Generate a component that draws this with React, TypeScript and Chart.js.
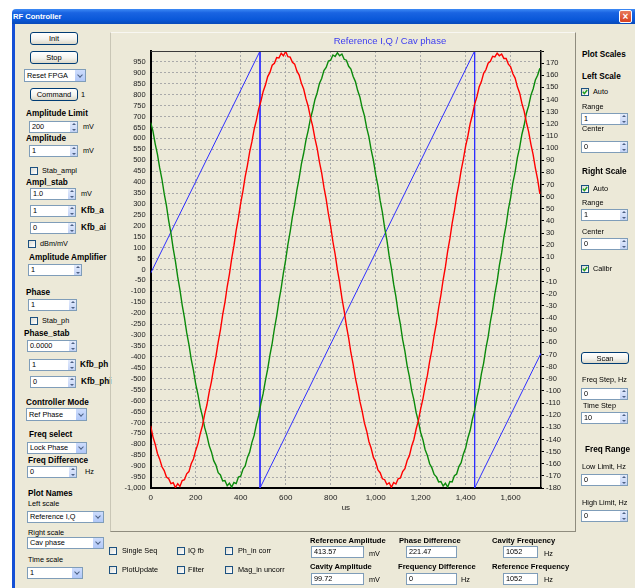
import React, { useEffect, useRef } from 'react';
import { Chart, registerables } from 'chart.js';

Chart.register(...registerables);

// ---------------- data ----------------
const SAMPLE_STEP_US = 10;
const X_MAX_US = 1735;
const CHART_TITLE = 'Reference I,Q / Cav phase';
const X_TITLE = 'us';

// Reference I (red), left scale, one value every 10 us from 0 to 1730 us
const referenceI = [
  -716, -766, -800, -842, -868, -903, -920, -950, -957, -980,
  -976, -998, -980, -993, -966, -962, -935, -925, -889, -867,
  -828, -798, -752, -715, -662, -619, -561, -513, -450, -398,
  -332, -276, -207, -150, -79, -21, 50, 109, 179, 236,
  304, 359, 425, 477, 538, 585, 642, 684, 735, 771,
  815, 844, 883, 902, 935, 944, 970, 968, 990, 978,
  998, 974, 972, 948, 940, 908, 890, 852, 826, 782,
  747, 697, 656, 600, 554, 493, 442, 377, 322, 254,
  197, 127, 69, -2, -60, -131, -189, -258, -314, -381,
  -434, -497, -546, -604, -648, -702, -739, -787, -818, -860,
  -881, -917, -930, -958, -962, -984, -976, -997, -975, -982,
  -958, -954, -925, -912, -874, -852, -809, -778, -730, -692,
  -638, -593, -534, -485, -421, -368, -301, -245, -175, -117,
  -47, 12, 83, 141, 211, 268, 336, 390, 454, 505,
  565, 611, 667, 707, 757, 790, 835, 860, 898, 914,
  944, 953, 976, 973, 990, 978, 986, 966, 966, 940,
  928, 896, 876, 836, 808, 761, 725, 674, 631, 574,
  526, 464, 412, 346,
];

// Reference Q (green), left scale, same sampling
const referenceQ = [
  672, 633, 575, 527, 465, 413, 347, 292, 223, 166,
  96, 37, -34, -93, -163, -220, -289, -344, -410, -462,
  -524, -572, -630, -672, -724, -760, -806, -835, -875, -895,
  -930, -940, -968, -966, -990, -978, -996, -975, -980, -950,
  -946, -914, -899, -860, -835, -791, -759, -708, -668, -613,
  -567, -507, -456, -392, -338, -270, -213, -144, -85, -15,
  44, 115, 173, 242, 298, 365, 419, 483, 532, 591,
  636, 690, 729, 777, 809, 851, 874, 910, 925, 954,
  958, 982, 975, 992, 978, 986, 962, 958, 930, 917,
  883, 860, 819, 789, 740, 704, 649, 607, 547, 500,
  435, 384, 315, 261, 190, 134, 62, 5, -67, -124,
  -196, -251, -321, -374, -441, -490, -553, -597, -655, -695,
  -746, -779, -825, -851, -889, -908, -938, -949, -972, -970,
  -991, -978, -996, -970, -972, -944, -936, -902, -884, -844,
  -817, -771, -737, -685, -645, -586, -541, -478, -428, -361,
  -308, -238, -182, -110, -54, 19, 76, 148, 204, 275,
  329, 397, 447, 512, 558, 618, 660, 714, 749, 797,
  826, 867, 889, 921,
];

// Cav phase (blue), right scale, degrees (sawtooth with wraps)
const phaseTimes = [0, 486, 486, 1440, 1440, 1735];
const cavPhase = [-3, 180, -180, 180, -180, -69];

const LEFT_MIN = -1000;
const LEFT_MAX = 1000;
const LEFT_STEP = 50;
const RIGHT_MIN = -180;
const RIGHT_MAX = 180;
const RIGHT_STEP = 10;
const X_STEP = 200;

// ---------------- ui helpers ----------------
const FONT = "'Liberation Sans', Arial, Helvetica, sans-serif";
const BG = '#ece9d8';

type LP = { x: number; y: number; text: string; bold?: boolean; size?: number; color?: string };
function Label({ x, y, text, bold, size, color }: LP) {
  return (
    <div
      style={{
        position: 'absolute',
        left: x,
        top: y - 5,
        lineHeight: '10px',
        fontSize: size ?? (bold ? 8.2 : 7.3),
        fontWeight: bold ? 700 : 400,
        whiteSpace: 'nowrap',
        color: color ?? '#000',
      }}
    >
      {text}
    </div>
  );
}

function Btn({ x, y, w, h = 13, text }: { x: number; y: number; w: number; h?: number; text: string }) {
  return (
    <div
      style={{
        position: 'absolute',
        left: x,
        top: y,
        width: w,
        height: h,
        boxSizing: 'border-box',
        border: '1px solid #003c74',
        borderRadius: 3,
        background: 'linear-gradient(#ffffff, #f4f3ee 55%, #dcd8c8)',
        fontSize: 7.5,
        display: 'flex',
        alignItems: 'center',
        justifyContent: 'center',
      }}
    >
      {text}
    </div>
  );
}

function Spin({ x, y, w, h = 12, value }: { x: number; y: number; w: number; h?: number; value: string }) {
  return (
    <div
      style={{
        position: 'absolute',
        left: x,
        top: y,
        width: w,
        height: h,
        boxSizing: 'border-box',
        border: '1px solid #7f9db9',
        background: '#fff',
      }}
    >
      <span style={{ position: 'absolute', left: 2, top: 0, lineHeight: h - 2 + 'px', fontSize: 7.3 }}>{value}</span>
      <div
        style={{
          position: 'absolute',
          right: 0,
          top: 0,
          width: 7,
          height: h - 2,
          background: 'linear-gradient(#e3ebfc, #c3d3f6)',
        }}
      >
        <div
          style={{
            position: 'absolute',
            left: 1.5,
            top: 1,
            width: 0,
            height: 0,
            borderLeft: '2px solid transparent',
            borderRight: '2px solid transparent',
            borderBottom: '2px solid #4d6185',
          }}
        />
        <div
          style={{
            position: 'absolute',
            left: 1.5,
            bottom: 1,
            width: 0,
            height: 0,
            borderLeft: '2px solid transparent',
            borderRight: '2px solid transparent',
            borderTop: '2px solid #4d6185',
          }}
        />
      </div>
    </div>
  );
}

function TextBox({ x, y, w, h = 12, value }: { x: number; y: number; w: number; h?: number; value: string }) {
  return (
    <div
      style={{
        position: 'absolute',
        left: x,
        top: y,
        width: w,
        height: h,
        boxSizing: 'border-box',
        border: '1px solid #7f9db9',
        background: '#fff',
      }}
    >
      <span style={{ position: 'absolute', left: 2, top: 0, lineHeight: h - 2 + 'px', fontSize: 7.3 }}>{value}</span>
    </div>
  );
}

function Combo({ x, y, w, h = 13, value }: { x: number; y: number; w: number; h?: number; value: string }) {
  return (
    <div
      style={{
        position: 'absolute',
        left: x,
        top: y,
        width: w,
        height: h,
        boxSizing: 'border-box',
        border: '1px solid #7f9db9',
        background: '#fff',
      }}
    >
      <span style={{ position: 'absolute', left: 2, top: 0, lineHeight: h - 2 + 'px', fontSize: 7.3, whiteSpace: 'nowrap' }}>
        {value}
      </span>
      <div
        style={{
          position: 'absolute',
          right: 0,
          top: 0,
          width: 11,
          height: h - 2,
          boxSizing: 'border-box',
          borderLeft: '1px solid #fff',
          background: 'linear-gradient(#cddcfc, #b1c8f8)',
        }}
      >
        <div
          style={{
            position: 'absolute',
            left: 3,
            top: (h - 2) / 2 - 3,
            width: 3,
            height: 3,
            borderRight: '1.3px solid #4d6185',
            borderBottom: '1.3px solid #4d6185',
            transform: 'rotate(45deg)',
          }}
        />
      </div>
    </div>
  );
}

function Check({ x, y, label, checked, gap = 12 }: { x: number; y: number; label: string; checked?: boolean; gap?: number }) {
  return (
    <>
      <div
        style={{
          position: 'absolute',
          left: x,
          top: y,
          width: 8,
          height: 8,
          boxSizing: 'border-box',
          border: '1px solid #1c5180',
          background: 'linear-gradient(135deg, #dcdcd4, #ffffff)',
        }}
      >
        {checked && (
          <svg width="6" height="6" style={{ position: 'absolute', left: 0, top: 0 }}>
            <polyline points="0.8,2.8 2.4,4.6 5.2,1" fill="none" stroke="#21a121" strokeWidth="1.5" />
          </svg>
        )}
      </div>
      <Label x={x + gap} y={y + 4} text={label} />
    </>
  );
}

// ---------------- chart ----------------
const fmt = (v: number) => Number(v).toLocaleString('en-US');

const framePlugin = {
  id: 'frameAndTitle',
  afterDraw(chart: any) {
    const { ctx, chartArea: a } = chart;
    ctx.save();
    ctx.strokeStyle = '#3a3a3a';
    ctx.lineWidth = 1;
    ctx.beginPath();
    ctx.moveTo(a.left, a.top + 0.5);
    ctx.lineTo(a.right, a.top + 0.5);
    ctx.stroke();
    ctx.fillStyle = '#3c3cf0';
    ctx.font = `9.5px ${FONT}`;
    ctx.textAlign = 'center';
    ctx.textBaseline = 'middle';
    ctx.fillText(CHART_TITLE, a.left + a.width * 0.613, a.top - 9.5);
    ctx.restore();
  },
};

function PlotPanel() {
  const ref = useRef<HTMLCanvasElement | null>(null);
  useEffect(() => {
    if (!ref.current) return;
    Chart.defaults.font.family = FONT;
    const iPts = referenceI.map((v, i) => ({ x: i * SAMPLE_STEP_US, y: v }));
    const qPts = referenceQ.map((v, i) => ({ x: i * SAMPLE_STEP_US, y: v }));
    const pPts = phaseTimes.map((t, i) => ({ x: t, y: cavPhase[i] }));
    const chart = new Chart(ref.current, {
      type: 'line',
      data: {
        datasets: [
          { label: 'Reference I', data: iPts, borderColor: '#ff0000', borderWidth: 1.4, pointRadius: 0, yAxisID: 'y', tension: 0 },
          { label: 'Reference Q', data: qPts, borderColor: '#0b8a0b', borderWidth: 1.4, pointRadius: 0, yAxisID: 'y', tension: 0 },
          { label: 'Cav phase', data: pPts, borderColor: '#2f2fff', borderWidth: 1, pointRadius: 0, yAxisID: 'y1', tension: 0 },
        ],
      },
      options: {
        animation: false,
        responsive: false,
        devicePixelRatio: 1,
        layout: { padding: { top: 19, left: 0, right: 0, bottom: 0 } },
        plugins: { legend: { display: false }, tooltip: { enabled: false }, title: { display: false } },
        scales: {
          x: {
            type: 'linear',
            position: 'bottom',
            min: 0,
            max: X_MAX_US,
            ticks: {
              stepSize: X_STEP,
              includeBounds: false,
              autoSkip: false,
              maxRotation: 0,
              color: '#222',
              padding: 5,
              font: { size: 8 },
              callback: (v: any) => fmt(v),
            },
            grid: { color: '#a9a9a9', lineWidth: 1, drawTicks: false },
            border: { display: true, color: '#000', width: 2, dash: [2, 2] },
            title: { display: true, text: X_TITLE, color: '#222', font: { size: 8 }, padding: { top: 0, bottom: 18 } },
            afterFit: (s: any) => {
              s.height = 43;
            },
          },
          y: {
            type: 'linear',
            position: 'left',
            min: LEFT_MIN,
            max: LEFT_MAX,
            ticks: {
              stepSize: LEFT_STEP,
              autoSkip: false,
              color: '#222',
              padding: 5,
              font: { size: 7.5 },
              callback: (v: any) => (v === LEFT_MAX ? '' : fmt(v)),
            },
            grid: { color: '#a9a9a9', lineWidth: 1, drawTicks: false },
            border: { display: true, color: '#000', width: 2, dash: [2, 2] },
            afterFit: (s: any) => {
              s.width = 40.7;
            },
          },
          y1: {
            type: 'linear',
            position: 'right',
            min: RIGHT_MIN,
            max: RIGHT_MAX,
            ticks: {
              stepSize: RIGHT_STEP,
              autoSkip: false,
              color: '#222',
              padding: 2,
              font: { size: 7.5 },
              callback: (v: any) => (v === RIGHT_MAX ? '' : fmt(v)),
            },
            grid: { drawOnChartArea: false, drawTicks: true, tickLength: 3, color: '#000' },
            border: { display: true, color: '#000', width: 1.5 },
            afterFit: (s: any) => {
              s.width = 34;
            },
          },
        },
      },
      plugins: [framePlugin],
    } as any);
    return () => chart.destroy();
  }, []);
  return (
    <>
      <canvas
        ref={ref}
        width={465}
        height={499}
        style={{ position: 'absolute', left: 110, top: 32, width: 465, height: 499 }}
      />
      <div
        style={{
          position: 'absolute',
          left: 110,
          top: 32,
          width: 466,
          height: 500,
          boxSizing: 'border-box',
          borderLeft: '1px solid #c9c6b6',
          borderTop: '1px solid #f8f7f2',
          borderRight: '1px solid #8f8c7e',
          borderBottom: '1px solid #8f8c7e',
          pointerEvents: 'none',
        }}
      />
    </>
  );
}

export default function App() {
  return (
    <div
      style={{
        position: 'fixed',
        left: 0,
        top: 0,
        width: 635,
        height: 588,
        background: '#fff',
        overflow: 'hidden',
        fontFamily: FONT,
        color: '#000',
      }}
    >
      {/* window body */}
      <div style={{ position: 'absolute', left: 12, top: 24, width: 640, height: 580, background: BG }} />
      <div style={{ position: 'absolute', left: 12, top: 24, width: 3, height: 580, background: '#1450d6' }} />
      {/* title bar */}
      <div
        style={{
          position: 'absolute',
          left: 12,
          top: 9,
          width: 640,
          height: 15,
          borderTopLeftRadius: 4,
          background: 'linear-gradient(#3d8af5, #1a64e2 25%, #0a58d9 70%, #0849b8)',
        }}
      />
      <Label x={13} y={16.5} text="RF Controller" bold size={7.6} color="#fff" />
      <div
        style={{
          position: 'absolute',
          left: 619,
          top: 10,
          width: 13,
          height: 13,
          boxSizing: 'border-box',
          border: '1px solid #fff',
          borderRadius: 2,
          background: 'linear-gradient(#e87a5c, #d7401f)',
          color: '#fff',
          fontSize: 10,
          fontWeight: 700,
          lineHeight: '11px',
          textAlign: 'center',
        }}
      >
        ×
      </div>

      {/* left column */}
      <Btn x={30} y={32} w={48} text="Init" />
      <Btn x={30} y={51} w={48} text="Stop" />
      <Combo x={24} y={69} w={62} value="Reset FPGA" />
      <Btn x={30} y={88} w={48} text="Command" />
      <Label x={81} y={94.5} text="1" />
      <Label x={26} y={114} text="Amplitude Limit" bold />
      <Spin x={29} y={121} w={49} value="200" />
      <Label x={83} y={127} text="mV" />
      <Label x={26} y={139} text="Amplitude" bold />
      <Spin x={29} y={145} w={49} value="1" />
      <Label x={83} y={151} text="mV" />
      <Check x={30} y={167} label="Stab_ampl" />
      <Label x={26} y={183} text="Ampl_stab" bold />
      <Spin x={30} y={188} w={46} value="1.0" />
      <Label x={81} y={194} text="mV" />
      <Spin x={30} y={205} w={46} value="1" />
      <Label x={81} y={211} text="Kfb_a" bold />
      <Spin x={30} y={222} w={46} value="0" />
      <Label x={81} y={228} text="Kfb_ai" bold />
      <Check x={28} y={240} label="dBm/mV" />
      <Label x={29} y={258} text="Amplitude Amplifier" bold />
      <Spin x={28} y={264} w={54} value="1" />
      <Label x={26} y={293} text="Phase" bold />
      <Spin x={28} y={299} w={49} value="1" />
      <Check x={30} y={317} label="Stab_ph" />
      <Label x={24} y={334} text="Phase_stab" bold />
      <Spin x={27} y={340} w={50} value="0.0000" />
      <Spin x={29} y={359} w={47} value="1" />
      <Label x={80} y={365} text="Kfb_ph" bold />
      <Spin x={30} y={376} w={46} value="0" />
      <Label x={81} y={382} text="Kfb_phi" bold />
      <Label x={26} y={403} text="Controller Mode" bold />
      <Combo x={26} y={408} w={61} value="Ref Phase" />
      <Label x={29} y={435} text="Freq select" bold />
      <Combo x={27} y={442} w={60} h={12} value="Lock Phase" />
      <Label x={28} y={461} text="Freq Difference" bold />
      <Spin x={27} y={466} w={50} value="0" />
      <Label x={85} y={472} text="Hz" />
      <Label x={28} y={494} text="Plot Names" bold />
      <Label x={28} y={504} text="Left scale" />
      <Combo x={27} y={511} w={77} h={12} value="Reference I,Q" />
      <Label x={28} y={533} text="Right scale" />
      <Combo x={27} y={537} w={77} h={12} value="Cav phase" />
      <Label x={28} y={560} text="Time scale" />
      <Combo x={27} y={567} w={56} h={12} value="1" />

      {/* chart */}
      <PlotPanel />

      {/* bottom row */}
      <Check x={109} y={547} label="Single Seq" gap={13} />
      <Check x={177} y={547} label="IQ fb" gap={11} />
      <Check x={225} y={547} label="Ph_in corr" gap={13} />
      <Check x={109} y={566} label="PlotUpdate" gap={13} />
      <Check x={177} y={566} label="Filter" gap={11} />
      <Check x={225} y={566} label="Mag_in uncorr" gap={13} />

      <Label x={310} y={541} text="Reference Amplitude" bold size={7.6} />
      <TextBox x={311} y={546} w={53} value="413.57" />
      <Label x={369} y={554} text="mV" />
      <Label x={310} y={567} text="Cavity Amplitude" bold size={7.6} />
      <TextBox x={311} y={573} w={53} value="99.72" />
      <Label x={369} y={580} text="mV" />
      <Label x={399} y={541} text="Phase Difference" bold size={7.6} />
      <TextBox x={406} y={546} w={51} value="221.47" />
      <Label x={398} y={567} text="Frequency Difference" bold size={7.6} />
      <TextBox x={406} y={573} w={51} value="0" />
      <Label x={461} y={580} text="Hz" />
      <Label x={492} y={541} text="Cavity Frequency" bold size={7.6} />
      <TextBox x={503} y={546} w={35} value="1052" />
      <Label x={544} y={554} text="Hz" />
      <Label x={492} y={567} text="Reference Frequency" bold size={7.6} />
      <TextBox x={503} y={573} w={35} value="1052" />
      <Label x={544} y={580} text="Hz" />

      {/* right column */}
      <Label x={582} y={55} text="Plot Scales" bold />
      <Label x={582} y={77} text="Left Scale" bold />
      <Check x={581} y={88} label="Auto" checked />
      <Label x={582} y={107} text="Range" />
      <Spin x={581} y={113} w={47} value="1" />
      <Label x={582} y={129} text="Center" />
      <Spin x={581} y={141} w={47} value="0" />
      <Label x={582} y={172} text="Right Scale" bold />
      <Check x={581} y={185} label="Auto" checked />
      <Label x={582} y={203} text="Range" />
      <Spin x={581} y={209} w={47} value="1" />
      <Label x={582} y={232} text="Center" />
      <Spin x={581} y={238} w={47} value="0" />
      <Check x={581} y={265} label="Calibr" checked />
      <Btn x={581} y={352} w={48} h={12} text="Scan" />
      <Label x={582} y={380} text="Freq Step, Hz" />
      <Spin x={581} y={388} w={47} value="0" />
      <Label x={583} y={406} text="Time Step" />
      <Spin x={581} y={412} w={47} value="10" />
      <Label x={585} y={450} text="Freq Range" bold />
      <Label x={582} y={467} text="Low Limit, Hz" />
      <Spin x={581} y={474} w={47} value="0" />
      <Label x={582} y={503} text="High Limit, Hz" />
      <Spin x={581} y={510} w={47} value="0" />
    </div>
  );
}
